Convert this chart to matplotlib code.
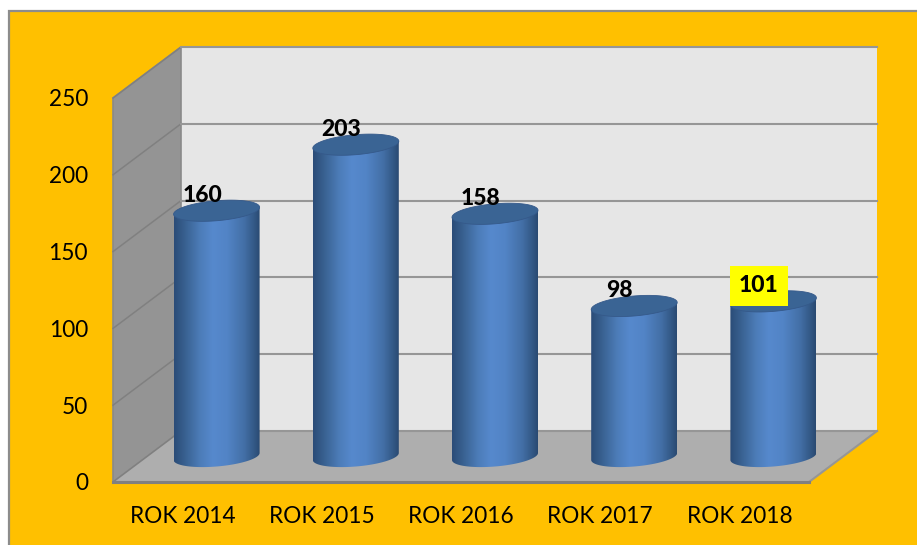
"""
3D-look cylinder chart, cases per year, on an orange background.
"""

import matplotlib
matplotlib.use('Agg')  # Non-interactive backend for headless rendering

import matplotlib.pyplot as plt
import numpy as np
from matplotlib.colors import LinearSegmentedColormap
from matplotlib.patches import PathPatch, Polygon, Rectangle
from matplotlib.path import Path

categories = ['ROK 2014', 'ROK 2015', 'ROK 2016', 'ROK 2017', 'ROK 2018']
values = [160, 203, 158, 98, 101]
y_ticks = [0, 50, 100, 150, 200, 250]
highlighted = 'ROK 2018'

W, H = 917, 545
FONT = ['Lato', 'DejaVu Sans']
PX = 0.72  # one pixel in points at dpi 100

# Front plane of the box in pixels, and how far the back wall is shifted
LEFT, RIGHT, TOP, BOTTOM = 113, 809, 98, 482
DEPTH_X, DEPTH_Y = 68, 51

X_PER_PX = 5 / (RIGHT - LEFT)
Y_PER_PX = 250 / (BOTTOM - TOP)
dx = DEPTH_X * X_PER_PX
dy = DEPTH_Y * Y_PER_PX

body_cmap = LinearSegmentedColormap.from_list('cylinder', [
    (0.00, '#2b4c78'), (0.12, '#38608f'), (0.30, '#4c7cb8'), (0.45, '#5689cd'),
    (0.62, '#5284c6'), (0.82, '#436fa6'), (0.93, '#345a88'), (1.00, '#2a4a72'),
])


def draw_box(ax):
    """Back wall, side wall, floor and gridlines."""
    xmin, xmax = -0.5, 4.5
    ax.add_patch(Polygon([(xmin + dx, dy), (xmax + dx, dy), (xmax + dx, 250 + dy), (xmin + dx, 250 + dy)],
                         facecolor='#e6e6e6', edgecolor='none', clip_on=False, zorder=1))
    ax.add_patch(Polygon([(xmin, 0), (xmin + dx, dy), (xmin + dx, 250 + dy), (xmin, 250)],
                         facecolor='#949494', edgecolor='#8a8a8a', linewidth=1.2, clip_on=False, zorder=2))
    ax.add_patch(Polygon([(xmin, 0), (xmax, 0), (xmax + dx, dy), (xmin + dx, dy)],
                         facecolor='#aeaeae', edgecolor='none', clip_on=False, zorder=2))
    for v in y_ticks:
        ax.plot([xmin, xmin + dx], [v, v + dy], color='#808080', lw=1.1, clip_on=False, zorder=3)
        ax.plot([xmin + dx, xmax + dx], [v + dy, v + dy], color='#969696', lw=1.5, clip_on=False, zorder=3)
    ax.plot([xmax, xmax + dx], [0, dy], color='#969696', lw=1.5, clip_on=False, zorder=3)
    ax.plot([xmin, xmax], [0, 0], color='#808080', lw=2.2, clip_on=False, zorder=3)


def draw_cylinder(ax, x, value):
    """One cylinder standing halfway into the box, tilted a little by the perspective."""
    cx = x + dx / 2
    base = dy / 2
    top = base + value
    rx = 43 * X_PER_PX
    ry = 10 * Y_PER_PX
    tilt = 3.5 * Y_PER_PX

    # Lower rim of the foot, then back up through the top corners
    t = np.linspace(np.pi, 2 * np.pi, 80)
    foot_x = cx + rx * np.cos(t)
    foot_y = base + ry * np.sin(t) + tilt * np.cos(t)
    xs = np.concatenate([[cx - rx], foot_x, [cx + rx]])
    ys = np.concatenate([[top - tilt], foot_y, [top + tilt]])
    body = PathPatch(Path(np.column_stack([xs, ys])), facecolor='none', edgecolor='none',
                     transform=ax.transData)
    ax.add_patch(body)

    im = ax.imshow(np.linspace(0, 1, 128).reshape(1, -1), cmap=body_cmap, aspect='auto',
                   extent=(cx - rx, cx + rx, base - 2 * ry, top + 2 * ry), zorder=4)
    im.set_clip_path(body)
    im.set_clip_box(ax.figure.bbox)

    a = np.linspace(0, 2 * np.pi, 120)
    lid = np.column_stack([cx + rx * np.cos(a), top + ry * np.sin(a) + tilt * np.cos(a)])
    ax.add_patch(Polygon(lid, facecolor='#3a6494', edgecolor='#35598a',
                         linewidth=0.6, clip_on=False, zorder=5))
    return cx, top


def main():
    fig = plt.figure(figsize=(W / 100, H / 100), dpi=100, facecolor='white')

    # Orange panel runs off the right and bottom of the image
    fig.add_artist(Rectangle((9 / W, -0.02), 1, 1.02 - 11 / H, transform=fig.transFigure,
                             facecolor='#ffc000', edgecolor='#8c8c8c', linewidth=1.6, zorder=-1))

    ax = fig.add_axes([LEFT / W, 1 - BOTTOM / H, (RIGHT - LEFT) / W, (BOTTOM - TOP) / H])
    ax.patch.set_visible(False)

    draw_box(ax)
    for i, (cat, val) in enumerate(zip(categories, values)):
        cx, top = draw_cylinder(ax, i, val)
        bbox = None
        if cat == highlighted:
            bbox = dict(boxstyle='square,pad=0.4', facecolor='#ffff00', edgecolor='none')
        ax.annotate(str(val), (cx, top), xytext=(-14.5 * PX, 15.5 * PX), textcoords='offset points',
                    ha='center', va='center', fontsize=16.5, fontweight='black', family=FONT,
                    color='black', bbox=bbox, annotation_clip=False, zorder=6)

    ax.set_xlim(-0.5, 4.5)
    ax.set_ylim(0, 250)
    ax.set_xticks(range(len(categories)), categories)
    ax.set_yticks(y_ticks)
    ax.tick_params(axis='both', length=0, labelsize=16.3)
    ax.tick_params(axis='x', pad=17)
    ax.tick_params(axis='y', pad=18)
    for label in ax.get_xticklabels() + ax.get_yticklabels():
        label.set_family(FONT)
    for spine in ax.spines.values():
        spine.set_visible(False)

    fig.savefig('out.png', dpi=100, facecolor='white')
    plt.close(fig)


if __name__ == "__main__":
    main()
